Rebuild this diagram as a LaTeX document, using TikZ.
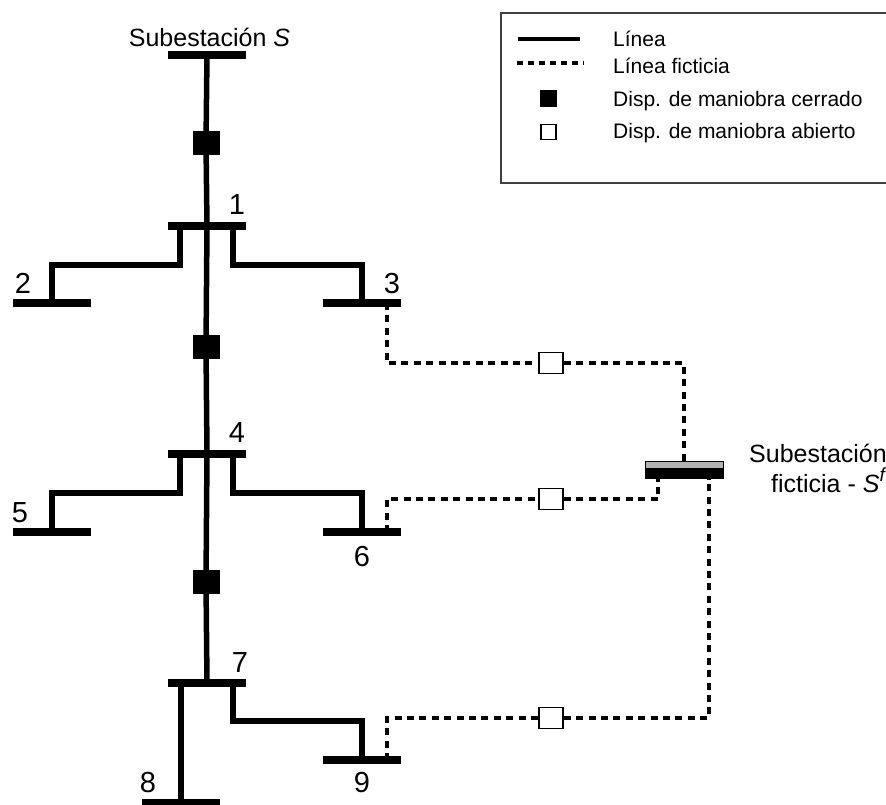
\documentclass[tikz,border=0pt]{standalone}
\usepackage{fontspec}
\setmainfont{Liberation Sans}
\begin{document}
\begin{tikzpicture}[x=1pt,y=-1pt,
  line/.style={line width=5.5pt},
  fict/.style={line width=4.4pt, dash pattern=on 7pt off 5.4pt},
  bus/.style={fill=black, minimum width=78pt, minimum height=7.5pt, inner sep=0pt, outer sep=0pt},
  closedsw/.style={draw=black, fill=black, minimum width=26pt, minimum height=23pt, inner sep=0pt},
  opensw/.style={draw=black, fill=white, line width=1.5pt, minimum width=24pt, minimum height=21pt, inner sep=0pt},
  lbl/.style={font=\fontsize{25}{30}\selectfont, inner sep=0pt},
  num/.style={font=\fontsize{29}{30}\selectfont, inner sep=0pt, anchor=base},
  leg/.style={font=\fontsize{21}{24}\selectfont, inner sep=0pt, anchor=base west},
  fbus/.style={draw=black, line width=1pt, fill=black, minimum width=78pt, minimum height=17pt, inner sep=0pt,
    path picture={\fill[black!30] (path picture bounding box.north west) rectangle ([yshift=-7pt]path picture bounding box.north east);}}
]
\useasboundingbox (0,0) rectangle (886,804);

% buses
\node[bus] (bS) at (207,55) {};
\node[bus] (b1) at (207,226) {};
\node[bus] (b2) at (52,303) {};
\node[bus] (b3) at (362,303) {};
\node[bus] (b4) at (207,454) {};
\node[bus] (b5) at (52,532) {};
\node[bus] (b6) at (362,532) {};
\node[bus] (b7) at (207,683) {};
\node[bus] (b8) at (181,803) {};
\node[bus] (b9) at (362,760) {};
\node[fbus] (fb) at (684,469.5) {};

% switches
\node[closedsw] (s1) at (206,143) {};
\node[closedsw] (s2) at (206,347) {};
\node[closedsw] (s3) at (206,582) {};
\node[opensw] (o1) at (551,363) {};
\node[opensw] (o2) at (551,499) {};
\node[opensw] (o3) at (551,718) {};

% lines
\draw[line] (bS) -- (s1) -- (b1) -- (s2) -- (b4) -- (s3) -- (b7);
\draw[line] ([xshift=-27pt]b1.center) -- ++(0,39) -| (b2);
\draw[line] ([xshift=26pt]b1.center) -- ++(0,39) -| (b3);
\draw[line] ([xshift=-27pt]b4.center) -- ++(0,39) -| (b5);
\draw[line] ([xshift=26pt]b4.center) -- ++(0,39) -| (b6);
\draw[line] (b7.center -| b8.center) -- (b8);
\draw[line] ([xshift=26pt]b7.center) -- ++(0,38) -| (b9);

% fictitious lines
\draw[fict] ([xshift=25pt]b3.center) |- (o1);
\draw[fict] (o1) -| (fb);
\draw[fict] ([xshift=25pt]b6.center) |- (o2);
\draw[fict] (o2) -| ([xshift=-26pt]fb.south);
\draw[fict] ([xshift=25pt]b9.center) |- (o3);
\draw[fict] (o3) -| ([xshift=25pt]fb.south);

% labels
\node[lbl, anchor=base] (tS) at (209.5,46) {Subestación \textit{S}};
\node[lbl, anchor=base east] (tF1) at (887,462) {Subestación};
\node[lbl, anchor=base east] (tF2) at (885,492) {ficticia - \textit{S}\raisebox{0.42em}{\fontsize{19}{19}\selectfont\itshape f}};
\node[num] (n1) at (237,214.5) {1};
\node[num] (n2) at (23,293) {2};
\node[num] (n3) at (392,293) {3};
\node[num] (n4) at (237,442) {4};
\node[num] (n5) at (20,522) {5};
\node[num] (n6) at (362,566) {6};
\node[num] (n7) at (240,672) {7};
\node[num] (n8) at (148,792) {8};
\node[num] (n9) at (362,792) {9};

% legend
\draw[line width=1.3pt, draw=black!75] (892,13) -- (501,13) -- (501,183) -- (892,183);
\coordinate (la1) at (518,39);
\coordinate (la2) at (580,39);
\coordinate (lb1) at (517,63);
\coordinate (lb2) at (584,63);
\draw[line width=4.5pt] (la1) -- (la2);
\draw[line width=4pt, dash pattern=on 6pt off 5pt] (lb1) -- (lb2);
\node[fill=black, minimum width=17pt, minimum height=17pt, inner sep=0pt] (lc) at (548,98) {};
\node[draw=black, line width=1.3pt, fill=white, minimum width=15pt, minimum height=15pt, inner sep=0pt] (ld) at (548.5,132) {};
\node[leg] (t1) at (613,46.5) {Línea};
\node[leg] (t2) at (613,73) {Línea ficticia};
\node[leg] (t3) at (613,106) {Disp. de maniobra cerrado};
\node[leg] (t4) at (613,138) {Disp. de maniobra abierto};
\end{tikzpicture}
\end{document}
